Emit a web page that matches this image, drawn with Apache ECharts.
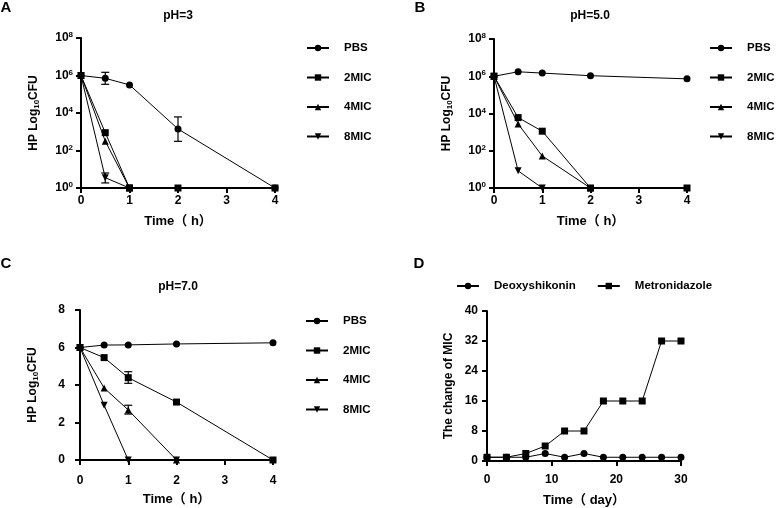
<!DOCTYPE html>
<html>
<head>
<meta charset="utf-8">
<script src="https://cdn.jsdelivr.net/npm/echarts@6/dist/echarts.min.js"></script>
<style>
  html, body { margin: 0; padding: 0; background: #fff; }
  #main { width: 782px; height: 508px; }
</style>
</head>
<body>
<div id="main"></div>
<script>
// sampling times (h) and days
const hours = [0, 0.5, 1, 2, 4];
const days = [0, 3, 6, 9, 12, 15, 18, 21, 24, 27, 30];

// A: pH=3, log10 CFU
const pbsA = [6.0, 5.85, 5.5, 3.15, 0];
const mic2A = [6.0, 2.95, 0, 0, 0];
const mic4A = [6.0, 2.5, 0];
const mic8A = [6.0, 0.55, 0];
const errA = [[0.5, 5.53, 6.17], [2, 2.49, 3.79], [0.5, 0.27, 0.8]];

// B: pH=5.0
const pbsB = [6.0, 6.24, 6.17, 6.03, 5.86];
const mic2B = [6.0, 3.78, 3.05, 0, 0];
const mic4B = [6.0, 3.44, 1.72, 0];
const mic8B = [6.0, 0.92, 0];

// C: pH=7.0
const pbsC = [6.0, 6.13, 6.14, 6.19, 6.25];
const mic2C = [6.0, 5.46, 4.39, 3.09, 0];
const mic4C = [6.0, 3.84, 2.67, 0];
const mic8C = [6.0, 2.92, 0, 0];
const errC = [[1, 4.09, 4.71], [1, 2.45, 2.92]];

// D: MIC change over days
const deoxy = [1, 1, 1, 2, 1, 2, 1, 1, 1, 1, 1];
const metro = [1, 1, 2, 4, 8, 8, 16, 16, 16, 32, 32];

const groups = ['PBS', '2MIC', '4MIC', '8MIC'];

const font = "'Liberation Sans', 'Noto Sans CJK SC', sans-serif";
const black = '#000';

const chart = echarts.init(document.getElementById('main'));

const symbols = {
  'PBS': ['circle', 0],
  '2MIC': ['rect', 0],
  '4MIC': ['triangle', 0],
  '8MIC': ['triangle', 180],
  'Deoxyshikonin': ['circle', 0],
  'Metronidazole': ['rect', 0]
};

function line(name, idx, xs, ys) {
  return {
    name: name,
    type: 'line',
    xAxisIndex: idx,
    yAxisIndex: idx,
    data: ys.map((v, i) => [xs[i], v]),
    symbol: symbols[name][0],
    symbolRotate: symbols[name][1],
    symbolSize: 7,
    showAllSymbol: true,
    itemStyle: { color: black },
    lineStyle: { color: black, width: 1 },
    animation: false,
    z: 3
  };
}

function errBars(idx, data) {
  return {
    type: 'custom',
    xAxisIndex: idx,
    yAxisIndex: idx,
    data: data,
    silent: true,
    animation: false,
    z: 2,
    encode: { x: 0, y: [1, 2] },
    renderItem: function (params, api) {
      const x = api.value(0);
      const lo = api.coord([x, api.value(1)]);
      const hi = api.coord([x, api.value(2)]);
      const w = 4;
      const st = { stroke: black, lineWidth: 1.2 };
      return {
        type: 'group',
        children: [
          { type: 'line', shape: { x1: lo[0], y1: lo[1], x2: hi[0], y2: hi[1] }, style: st },
          { type: 'line', shape: { x1: lo[0] - w, y1: lo[1], x2: lo[0] + w, y2: lo[1] }, style: st },
          { type: 'line', shape: { x1: hi[0] - w, y1: hi[1], x2: hi[0] + w, y2: hi[1] }, style: st }
        ]
      };
    }
  };
}

const axisLine = { lineStyle: { color: black, width: 2 } };
const axisTick = { show: true, inside: false, length: 5, lineStyle: { color: black, width: 2 } };
const lbl = { color: black, fontFamily: font, fontWeight: 'bold', fontSize: 12 };

function xAxis(idx, max, interval, name, margin, gap) {
  return {
    type: 'value', gridIndex: idx, min: 0, max: max, interval: interval,
    axisLine: axisLine, axisTick: axisTick, splitLine: { show: false },
    axisLabel: Object.assign({ margin: margin }, lbl),
    name: name, nameLocation: 'middle', nameGap: gap,
    nameTextStyle: { color: black, fontFamily: font, fontWeight: 'bold', fontSize: 13 }
  };
}

const logName = '{a|HP Log}{s|10}{a|CFU}';
const nameRich = {
  a: { color: black, fontFamily: font, fontWeight: 'bold', fontSize: 12 },
  s: { color: black, fontFamily: font, fontWeight: 'bold', fontSize: 8, padding: [6, 0, 0, 0] }
};

function yLogAxis(idx) {
  return {
    type: 'value', gridIndex: idx, min: 0, max: 8, interval: 2,
    axisLine: axisLine, axisTick: axisTick, splitLine: { show: false },
    axisLabel: {
      margin: 8,
      formatter: v => '{n|10}{e|' + v + '}',
      rich: {
        n: lbl,
        e: { color: black, fontFamily: font, fontWeight: 'bold', fontSize: 8, padding: [0, 0, 6, 0] }
      }
    },
    name: logName, nameLocation: 'middle', nameGap: 40, nameRotate: 90,
    nameTextStyle: { rich: nameRich }
  };
}

function legend(left, top, names, orient) {
  return {
    orient: orient, left: left, top: top, data: names, padding: 0,
    itemWidth: 22, itemHeight: 8, itemGap: orient === 'vertical' ? 15.5 : 21,
    selectedMode: false,
    textStyle: { color: black, fontFamily: font, fontWeight: 'bold', fontSize: 11.5, lineHeight: 14, padding: [0, 0, 0, 10] }
  };
}

const option = {
  backgroundColor: '#fff',
  animation: false,
  grid: [
    { left: 81, top: 38, width: 194, height: 150 },
    { left: 494, top: 39, width: 193, height: 149 },
    { left: 80, top: 310, width: 193, height: 150 },
    { left: 487, top: 311, width: 194, height: 150 }
  ],
  xAxis: [
    xAxis(0, 4, 1, 'Time（ h）', 7, 27),
    xAxis(1, 4, 1, 'Time（ h）', 7, 27),
    xAxis(2, 4, 1, 'Time（ h）', 15, 33),
    xAxis(3, 30, 10, 'Time（ day）', 13, 33)
  ],
  yAxis: [
    yLogAxis(0),
    yLogAxis(1),
    {
      type: 'value', gridIndex: 2, min: 0, max: 8, interval: 2,
      axisLine: axisLine, axisTick: axisTick, splitLine: { show: false },
      axisLabel: Object.assign({ margin: 15 }, lbl),
      name: logName, nameLocation: 'middle', nameGap: 40, nameRotate: 90,
      nameTextStyle: { rich: nameRich }
    },
    {
      type: 'value', gridIndex: 3, min: 0, max: 40, interval: 8,
      axisLine: axisLine, axisTick: axisTick, splitLine: { show: false },
      axisLabel: Object.assign({ margin: 9 }, lbl),
      name: 'The change of MIC', nameLocation: 'middle', nameGap: 32, nameRotate: 90,
      nameTextStyle: { color: black, fontFamily: font, fontWeight: 'bold', fontSize: 12 }
    }
  ],
  legend: [
    legend(306, 41, groups, 'vertical'),
    legend(709, 41, groups, 'vertical'),
    legend(305, 314, groups, 'vertical'),
    legend(456, 279, ['Deoxyshikonin', 'Metronidazole'], 'horizontal')
  ],
  graphic: [
    { type: 'text', x: 6, y: 8, style: { text: 'A', font: 'bold 15px ' + font, fill: black, align: 'center', verticalAlign: 'middle' } },
    { type: 'text', x: 420, y: 8, style: { text: 'B', font: 'bold 15px ' + font, fill: black, align: 'center', verticalAlign: 'middle' } },
    { type: 'text', x: 6, y: 264, style: { text: 'C', font: 'bold 15px ' + font, fill: black, align: 'center', verticalAlign: 'middle' } },
    { type: 'text', x: 419, y: 264, style: { text: 'D', font: 'bold 15px ' + font, fill: black, align: 'center', verticalAlign: 'middle' } },
    { type: 'text', x: 178, y: 16, style: { text: 'pH=3', font: 'bold 12px ' + font, fill: black, align: 'center', verticalAlign: 'middle' } },
    { type: 'text', x: 590, y: 16, style: { text: 'pH=5.0', font: 'bold 12px ' + font, fill: black, align: 'center', verticalAlign: 'middle' } },
    { type: 'text', x: 178, y: 287, style: { text: 'pH=7.0', font: 'bold 12px ' + font, fill: black, align: 'center', verticalAlign: 'middle' } }
  ],
  series: [
    line('PBS', 0, hours, pbsA),
    line('2MIC', 0, hours, mic2A),
    line('4MIC', 0, hours, mic4A),
    line('8MIC', 0, hours, mic8A),
    errBars(0, errA),
    line('PBS', 1, hours, pbsB),
    line('2MIC', 1, hours, mic2B),
    line('4MIC', 1, hours, mic4B),
    line('8MIC', 1, hours, mic8B),
    line('PBS', 2, hours, pbsC),
    line('2MIC', 2, hours, mic2C),
    line('4MIC', 2, hours, mic4C),
    line('8MIC', 2, hours, mic8C),
    errBars(2, errC),
    line('Deoxyshikonin', 3, days, deoxy),
    line('Metronidazole', 3, days, metro)
  ]
};

chart.setOption(option);
</script>
</body>
</html>
